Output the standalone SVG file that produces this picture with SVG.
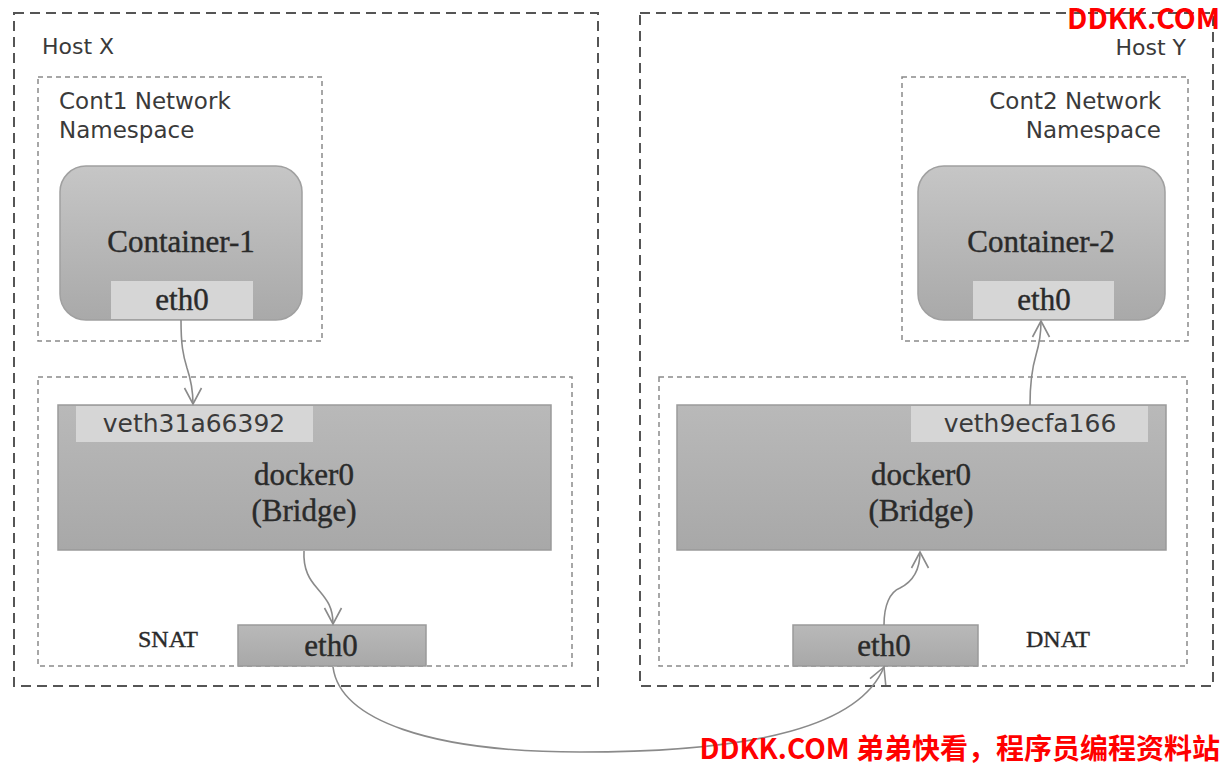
<svg xmlns="http://www.w3.org/2000/svg" width="1223" height="765" viewBox="0 0 1223 765">
<defs>
<linearGradient id="gCont" x1="0" y1="0" x2="0" y2="1"><stop offset="0" stop-color="#c6c6c6"/><stop offset="1" stop-color="#a9a9a9"/></linearGradient>
<linearGradient id="gBr" x1="0" y1="0" x2="0" y2="1"><stop offset="0" stop-color="#b9b9b9"/><stop offset="1" stop-color="#a8a8a8"/></linearGradient>
<marker id="arr" viewBox="0 0 20 20" refX="18" refY="10" markerWidth="20" markerHeight="20" markerUnits="userSpaceOnUse" orient="auto">
<path d="M2,1.5 L18,10 L2,18.5" fill="none" stroke="#8a8a8a" stroke-width="1.6"/>
</marker>
</defs>
<style>
.host{fill:none;stroke:#555;stroke-width:2;stroke-dasharray:10 6}
.ns{fill:none;stroke:#8a8a8a;stroke-width:1.5;stroke-dasharray:5 4}
.cont{fill:url(#gCont);stroke:#a0a0a0;stroke-width:1.5}
.br{fill:url(#gBr);stroke:#9a9a9a;stroke-width:1.5}
.lite{fill:#d6d6d6}
.sans{font-family:"DejaVu Sans","Open Sans",sans-serif;fill:#3a3a3a}
.serif{font-family:"Liberation Serif","DejaVu Serif",serif;fill:#2a2a2a;stroke:#2a2a2a;stroke-width:0.4}
.conn{fill:none;stroke:#8a8a8a;stroke-width:1.6}
.wm{font-family:"Noto Sans CJK SC","Noto Sans",sans-serif;font-weight:bold;fill:#ff0000}
</style>
<rect width="1223" height="765" fill="#ffffff"/>

<g id="hostX">
<rect class="host" x="14" y="13" width="584" height="673"/>
<text class="sans" x="42" y="54" font-size="22">Host X</text>
</g>
<g id="hostY">
<rect class="host" x="640" y="13" width="573" height="673"/>
<text class="sans" x="1186" y="55" font-size="22" text-anchor="end">Host Y</text>
</g>

<g id="cont1ns">
<rect class="ns" x="38" y="77" width="284" height="264"/>
<text class="sans" x="59" y="109" font-size="23">Cont1 Network</text>
<text class="sans" x="59" y="138" font-size="23">Namespace</text>
</g>
<g id="cont2ns">
<rect class="ns" x="902" y="77" width="286" height="264"/>
<text class="sans" x="1161" y="109" font-size="23" text-anchor="end">Cont2 Network</text>
<text class="sans" x="1161" y="138" font-size="23" text-anchor="end">Namespace</text>
</g>

<g id="container1">
<rect class="cont" x="60" y="166" width="242" height="154" rx="26"/>
<rect class="lite" x="111" y="281" width="142" height="38"/>
<text class="serif" x="181" y="252" font-size="31" text-anchor="middle">Container-1</text>
<text class="serif" x="182" y="310" font-size="31" text-anchor="middle">eth0</text>
</g>
<g id="container2">
<rect class="cont" x="918" y="166" width="247" height="154" rx="26"/>
<rect class="lite" x="973" y="281" width="141" height="38"/>
<text class="serif" x="1041" y="252" font-size="31" text-anchor="middle">Container-2</text>
<text class="serif" x="1044" y="310" font-size="31" text-anchor="middle">eth0</text>
</g>

<g id="bridgeX">
<rect class="ns" x="38" y="377" width="534" height="289"/>
<rect class="br" x="58" y="405" width="493" height="145"/>
<rect class="lite" x="76" y="406" width="237" height="36"/>
<text class="sans" x="194" y="432" font-size="25" text-anchor="middle" fill="#2e2e2e">veth31a66392</text>
<text class="serif" x="304" y="485" font-size="31" text-anchor="middle">docker0</text>
<text class="serif" x="304" y="521" font-size="31" text-anchor="middle">(Bridge)</text>
</g>
<g id="bridgeY">
<rect class="ns" x="659" y="377" width="528" height="289"/>
<rect class="br" x="677" y="405" width="489" height="145"/>
<rect class="lite" x="911" y="406" width="237" height="36"/>
<text class="sans" x="1030" y="432" font-size="25" text-anchor="middle">veth9ecfa166</text>
<text class="serif" x="921" y="485" font-size="31" text-anchor="middle">docker0</text>
<text class="serif" x="921" y="521" font-size="31" text-anchor="middle">(Bridge)</text>
</g>

<g id="ethX">
<rect class="br" x="238" y="625" width="188" height="41"/>
<text class="serif" x="331" y="656" font-size="31" text-anchor="middle">eth0</text>
<text class="serif" x="168" y="647" font-size="24" text-anchor="middle">SNAT</text>
</g>
<g id="ethY">
<rect class="br" x="793" y="625" width="185" height="41"/>
<text class="serif" x="884" y="656" font-size="31" text-anchor="middle">eth0</text>
<text class="serif" x="1058" y="647" font-size="24" text-anchor="middle">DNAT</text>
</g>

<g id="connectors">
<path class="conn" d="M181,320 C181,345 183,355 187,368 C191,380 193,390 193,404" marker-end="url(#arr)"/>
<path class="conn" d="M304,551 C303,570 310,580 317,588 C325,598 333,605 333,624" marker-end="url(#arr)"/>
<path class="conn" d="M333,667 C340,720 430,752 580,752 C760,752 860,725 884,667" marker-end="url(#arr)"/>
<path class="conn" d="M884,625 C884,605 890,592 900,588 C912,582 920,570 920,552" marker-end="url(#arr)"/>
<path class="conn" d="M1030,405 C1030,380 1033,365 1036,355 C1039,345 1041,335 1041,321" marker-end="url(#arr)"/>
</g>

<g id="watermarks">
<text class="wm" x="1220" y="29" font-size="28.5" text-anchor="end">DDKK.COM</text>
<text class="wm" x="1220" y="759" font-size="28" text-anchor="end">DDKK.COM 弟弟快看，程序员编程资料站</text>
</g>
</svg>
